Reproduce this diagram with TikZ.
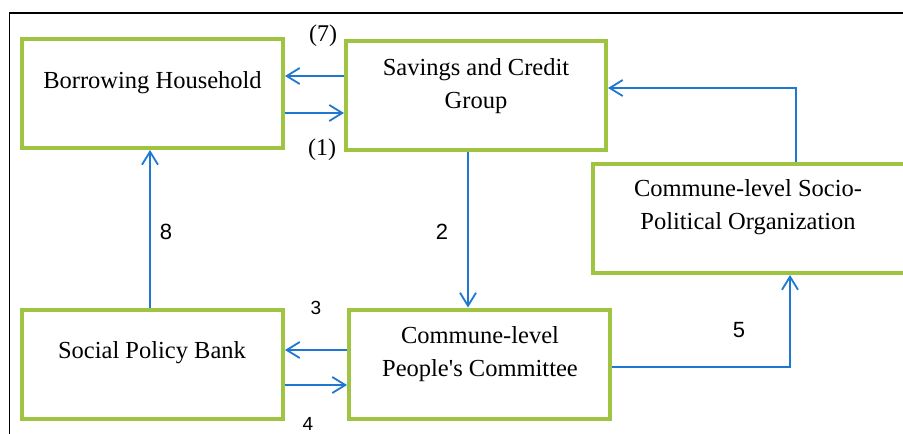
\documentclass[tikz,border=0pt]{standalone}
\usepackage{fontspec}
\setmainfont{Liberation Serif}
\newfontfamily\labsans{Liberation Sans}
\usetikzlibrary{arrows.meta,calc}
\definecolor{boxgreen}{RGB}{158,196,66}
\definecolor{flowblue}{RGB}{30,120,210}
\begin{document}
\begin{tikzpicture}[x=1pt,y=-1pt,
  box/.style={draw=boxgreen,line width=4pt,minimum width=261pt,minimum height=109pt,inner sep=0pt},
  boxtext/.style={font=\fontsize{24.5}{33}\selectfont,align=center,inner sep=0pt},
  arr/.style={draw=flowblue,line width=1.8pt,-{Straight Barb[length=13pt,width=16pt,line width=1.8pt]}},
  numlab/.style={font=\labsans\fontsize{22}{24}\selectfont,inner sep=0pt},
  smalllab/.style={font=\labsans\fontsize{19}{21}\selectfont,inner sep=0pt},
  parlab/.style={font=\fontsize{24}{26}\selectfont,inner sep=0pt}]
\useasboundingbox (0,0) rectangle (903,434);
\clip (0,0) rectangle (903,434);
\draw[line width=1.4pt] (9.5,434) -- (9.5,13) -- (903,13);
% boxes
\node[box] (bh) at (152.5,93.5) {};
\node[box,minimum width=260pt] (scg) at (476,95.5) {};
\node[box,minimum width=317pt] (spo) at (751.5,218.5) {};
\node[box] (spb) at (152.5,364.5) {};
\node[box] (pc) at (479.5,364) {};
% texts
\node[boxtext] (bht) at (152.5,82.5) {Borrowing Household};
\node[boxtext] (scgt) at (476,86) {Savings and Credit\\Group};
\node[boxtext] (spot) at (748,207.5) {Commune-level Socio-\\Political Organization};
\node[boxtext] (spbt) at (152,353) {Social Policy Bank};
\node[boxtext] (pct) at (480,354) {Commune-level\\People\textquotesingle s Committee};
% connectors
\draw[arr] (scg.west |- 0,76) -- (bh.east |- 0,76);
\draw[arr] (bh.east |- 0,113) -- (scg.west |- 0,113);
\draw[arr] (pc.west |- 0,350) -- (spb.east |- 0,350);
\draw[arr] (spb.east |- 0,385) -- (pc.west |- 0,385);
\draw[arr] (spb.north -| 150,0) -- (bh.south -| 150,0);
\draw[arr] (scg.south -| 468,0) -- (pc.north -| 468,0);
\draw[arr] (pc.east |- 0,367) -| (spo.south -| 790,0);
\draw[arr] (spo.north -| 796,0) |- (scg.east |- 0,88);
% labels
\node[parlab] (l7) at (323,36) {(7)};
\node[parlab] (l1) at (322,150) {(1)};
\node[numlab] (l2) at (442,232) {2};
\node[smalllab] (l3) at (316,308) {3};
\node[smalllab] (l4) at (308,424) {4};
\node[numlab] (l5) at (739,330) {5};
\node[numlab] (l8) at (166,232) {8};
\end{tikzpicture}
\end{document}
